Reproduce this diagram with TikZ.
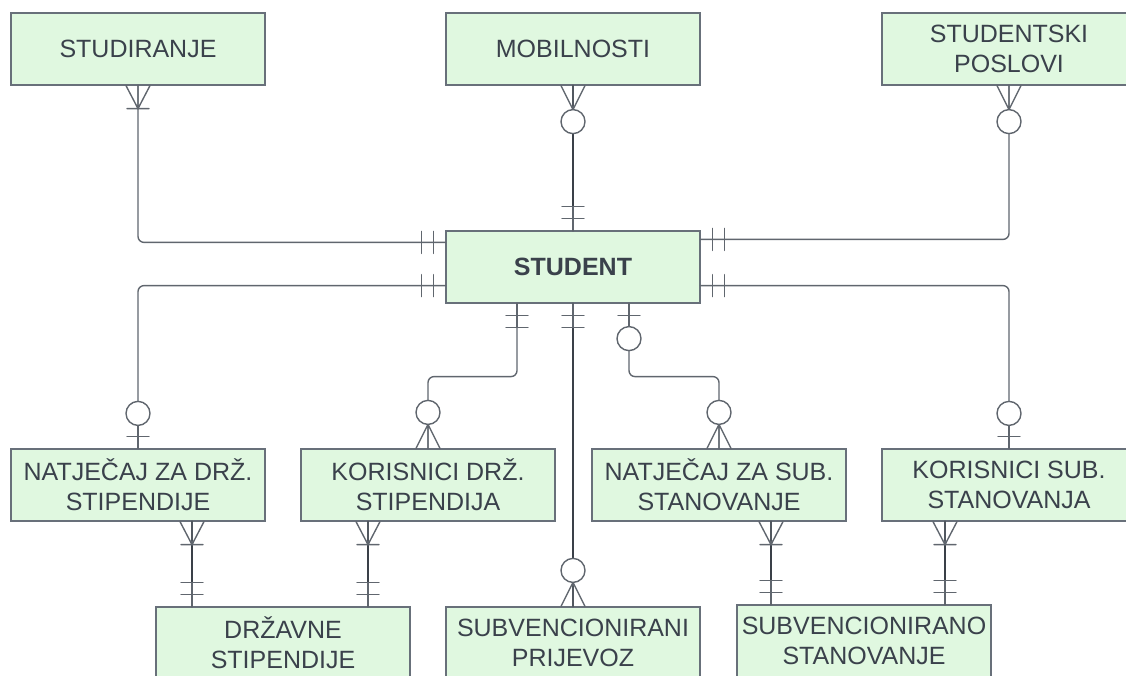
\documentclass[tikz,border=0pt]{standalone}
\usepackage{fontspec}
\setmainfont{Liberation Sans}
\definecolor{G}{RGB}{224,248,224}
\definecolor{E}{RGB}{104,112,122}
\definecolor{L}{RGB}{96,102,110}
\definecolor{D}{RGB}{58,64,72}
\definecolor{T}{RGB}{58,65,75}
\def\Bw{254}
\def\Bh{72}

\begin{document}
\begin{tikzpicture}[x=1pt,y=-1pt,
    entity/.style={draw=E,fill=G,line width=1.2pt,minimum width=\Bw pt,minimum height=\Bh pt,inner sep=0pt,align=center,text=T,font=\fontsize{25}{30}\selectfont},
    conn/.style={draw=L,line width=1.4pt,line cap=round},
    dark/.style={draw=D,line width=2pt},
    pics/onemany/.style={code={\draw[conn] (0,-12) -- (23,0) -- (0,12) (0,0) -- (23,0) (23,-11) -- (23,11);}},
    pics/zeromany/.style={code={\draw[conn] (0,-12) -- (24,0) -- (0,12) (0,0) -- (24,0); \draw[conn,fill=white] (36,0) circle[radius=12];}},
    pics/onlyone/.style={code={\draw[conn] (0,0) -- (24,0) (12,-11) -- (12,11) (24,-11) -- (24,11);}},
    pics/zeroone/.style={code={\draw[conn] (0,0) -- (24,0) (12,-11) -- (12,11); \draw[conn,fill=white] (35,0) circle[radius=12];}}]
    \path[use as bounding box] (0,0) rectangle (1126,675);
    % entities
    \node[entity] (studiranje) at (138,49) {STUDIRANJE};
    \node[entity] (mobilnosti) at (573,49) {MOBILNOSTI};
    \node[entity] (poslovi) at (1009,49) {STUDENTSKI\\POSLOVI};
    \node[entity,font=\bfseries\fontsize{25}{30}\selectfont] (student) at (573,267) {STUDENT};
    \node[entity] (natjdrz) at (138,485) {NATJEČAJ ZA DRŽ.\\STIPENDIJE};
    \node[entity] (kordrz) at (428,485) {KORISNICI DRŽ.\\STIPENDIJA};
    \node[entity] (natjsub) at (719,485) {NATJEČAJ ZA SUB.\\STANOVANJE};
    \node[entity] (korsub) at (1009,485) {KORISNICI SUB.\\STANOVANJA};
    \node[entity] (drzstip) at (283,643) {DRŽAVNE\\STIPENDIJE};
    \node[entity] (prijevoz) at (573,643) {SUBVENCIONIRANI\\PRIJEVOZ};
    \node[entity] (substan) at (864,641) {SUBVENCIONIRANO\\STANOVANJE};
    % relations of student
    \draw[conn,rounded corners=6pt] (studiranje.south) |- ([yshift=-12pt]student.north west);
    \draw[conn,dark] (mobilnosti.south) -- (student.north);
    \draw[conn,rounded corners=6pt] (poslovi.south) |- ([yshift=-9pt]student.north east);
    \draw[conn,rounded corners=6pt] ([yshift=18pt]student.south west) -| (natjdrz.north);
    \draw[conn,rounded corners=6pt] ([xshift=-56pt]student.south) -- ++(0,73) -| (kordrz.north);
    \draw[conn,dark] (student.south) -- (prijevoz.north);
    \draw[conn,rounded corners=6pt] ([xshift=56pt]student.south) -- ++(0,73) -| (natjsub.north);
    \draw[conn,rounded corners=6pt] ([yshift=18pt]student.south east) -| (korsub.north);
    \path (studiranje.south) pic[rotate=-90] {onemany}
          ([yshift=-12pt]student.north west) pic[rotate=180] {onlyone}
          (mobilnosti.south) pic[rotate=-90] {zeromany}
          (student.north) pic[rotate=90] {onlyone}
          (poslovi.south) pic[rotate=-90] {zeromany}
          ([yshift=-9pt]student.north east) pic {onlyone}
          ([yshift=18pt]student.south west) pic[rotate=180] {onlyone}
          (natjdrz.north) pic[rotate=90] {zeroone}
          ([xshift=-56pt]student.south) pic[rotate=-90] {onlyone}
          (kordrz.north) pic[rotate=90] {zeromany}
          (student.south) pic[rotate=-90] {onlyone}
          (prijevoz.north) pic[rotate=90] {zeromany}
          ([xshift=56pt]student.south) pic[rotate=-90] {zeroone}
          (natjsub.north) pic[rotate=90] {zeromany}
          ([yshift=18pt]student.south east) pic {onlyone}
          (korsub.north) pic[rotate=90] {zeroone};
    % lower relations
    \foreach \A/\Ax/\B/\Bx in {natjdrz/54/drzstip/-91,kordrz/-60/drzstip/85,natjsub/52/substan/-93,korsub/-64/substan/81} {
        \draw[conn,dark] ([xshift=\Ax pt]\A.south) -- ([xshift=\Bx pt]\B.north);
        \path ([xshift=\Ax pt]\A.south) pic[rotate=-90] {onemany}
              ([xshift=\Bx pt]\B.north) pic[rotate=90] {onlyone};
    }
\end{tikzpicture}
\end{document}
